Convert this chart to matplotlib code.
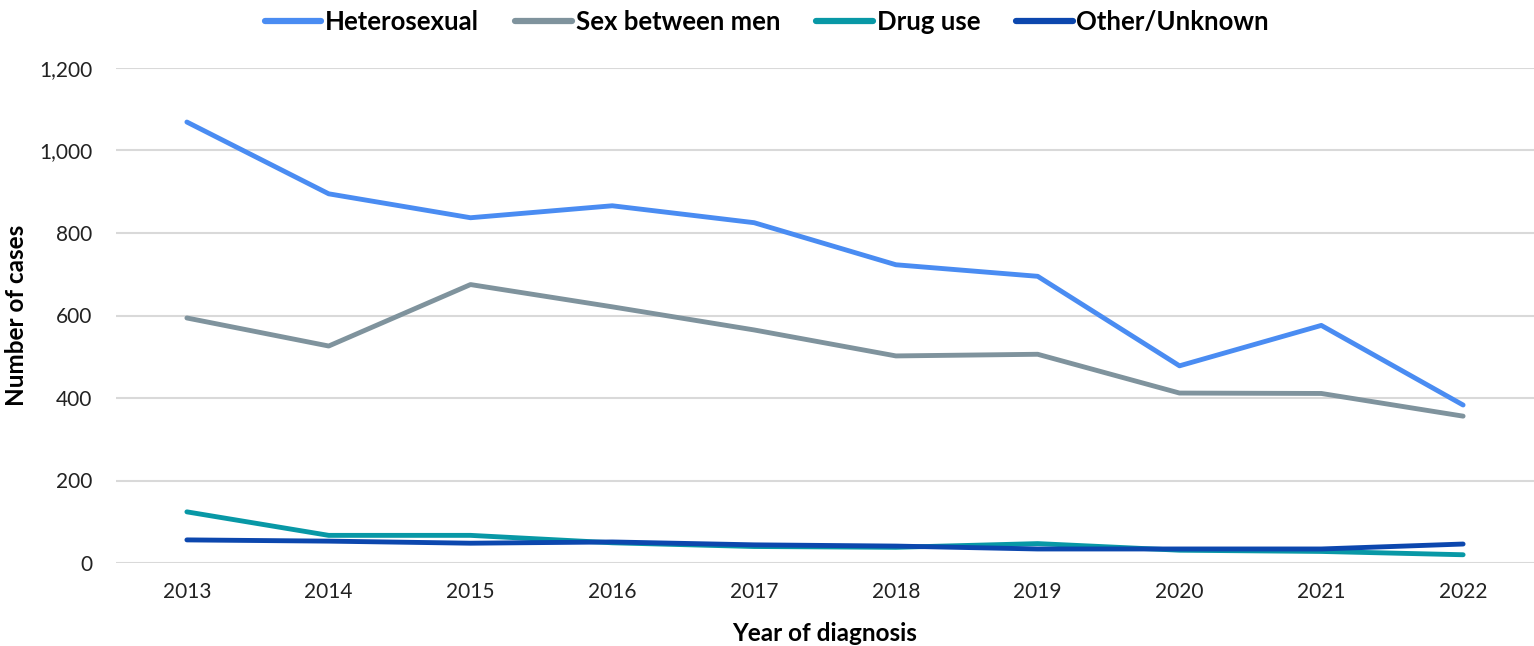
import matplotlib
matplotlib.use("Agg")
import matplotlib.pyplot as plt
from matplotlib.ticker import FuncFormatter

plt.rcParams['font.family'] = ['Lato', 'DejaVu Sans']

years = ["2013", "2014", "2015", "2016", "2017", "2018", "2019", "2020", "2021", "2022"]
heterosexual = [1069, 895, 837, 866, 825, 723, 695, 478, 576, 383]
sex_between_men = [594, 526, 675, 621, 565, 502, 506, 412, 411, 356]
drug_use = [124, 67, 67, 49, 40, 38, 47, 31, 28, 20]
other_unknown = [56, 53, 48, 51, 44, 41, 34, 34, 34, 46]

series = [
    ("Heterosexual", heterosexual, "#4A8CF2"),
    ("Sex between men", sex_between_men, "#7F939D"),
    ("Drug use", drug_use, "#0898A6"),
    ("Other/Unknown", other_unknown, "#0C47AE"),
]

fig = plt.figure(figsize=(15.34, 6.46), dpi=100)
ax = fig.add_axes([116 / 1534, 83 / 646, 1418 / 1534, 495 / 646])

x = list(range(len(years)))
for name, vals, color in series:
    ax.plot(x, vals, color=color, lw=3.5, solid_capstyle="round",
            solid_joinstyle="round", label=name)

ax.set_xlim(-0.5, len(years) - 0.5)
ax.set_ylim(0, 1200)
ax.set_yticks(range(0, 1201, 200))
ax.yaxis.set_major_formatter(FuncFormatter(lambda v, p: f"{int(v):,}"))
ax.set_xticks(x)
ax.set_xticklabels(years)
ax.grid(axis="y", color="#D9D9D9", lw=1.5)
ax.set_axisbelow(True)
for s in ax.spines.values():
    s.set_visible(False)
ax.tick_params(axis="both", length=0, labelsize=15, colors="#222222")
ax.tick_params(axis="y", pad=17)
ax.tick_params(axis="x", pad=14)

ax.set_xlabel("Year of diagnosis", fontsize=17.5, fontweight="bold", labelpad=14)
ax.set_ylabel("Number of cases", fontsize=17.5, fontweight="bold", labelpad=8)

leg = fig.legend(loc="upper center", bbox_to_anchor=(0.5, 1.02), ncol=4,
                 frameon=False, prop={"size": 18.5, "weight": "bold"},
                 handlelength=2.2, handletextpad=0.15, columnspacing=1.4)
for line in leg.get_lines():
    line.set_linewidth(4.5)

fig.savefig("out.png", dpi=100)
